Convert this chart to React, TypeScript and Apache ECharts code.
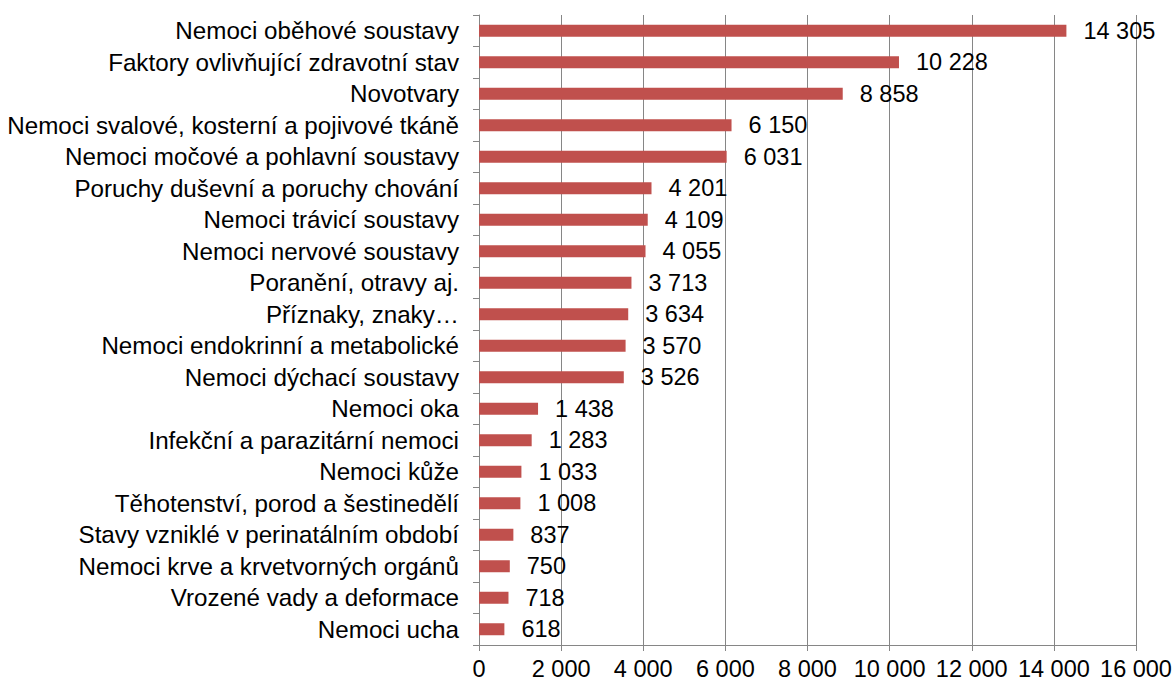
import React, { useEffect, useRef } from "react";
import * as echarts from "echarts";

const categories = [
  "Nemoci oběhové soustavy",
  "Faktory ovlivňující zdravotní stav",
  "Novotvary",
  "Nemoci svalové, kosterní a pojivové tkáně",
  "Nemoci močové a pohlavní soustavy",
  "Poruchy duševní a poruchy chování",
  "Nemoci trávicí soustavy",
  "Nemoci nervové soustavy",
  "Poranění, otravy aj.",
  "Příznaky, znaky…",
  "Nemoci endokrinní a metabolické",
  "Nemoci dýchací soustavy",
  "Nemoci oka",
  "Infekční a parazitární nemoci",
  "Nemoci kůže",
  "Těhotenství, porod a šestinedělí",
  "Stavy vzniklé v perinatálním období",
  "Nemoci krve a krvetvorných orgánů",
  "Vrozené vady a deformace",
  "Nemoci ucha",
];

const values = [
  14305, 10228, 8858, 6150, 6031, 4201, 4109, 4055, 3713, 3634, 3570, 3526,
  1438, 1283, 1033, 1008, 837, 750, 718, 618,
];

const axisMin = 0;
const axisMax = 16000;
const axisStep = 2000;

const fmt = (v: number) =>
  String(Math.round(v)).replace(/\B(?=(\d{3})+(?!\d))/g, " ");

const FONT = "'Liberation Sans', Arial, sans-serif";
const FS = 23.5;
const FS_CAT = 24.2;

export default function App() {
  const ref = useRef<HTMLDivElement>(null);
  useEffect(() => {
    if (!ref.current) return;
    const chart = echarts.init(ref.current, undefined, { renderer: "svg" });
    chart.setOption({
      animation: false,
      backgroundColor: "#ffffff",
      textStyle: { fontFamily: FONT },
      grid: { left: 479, right: 40, top: 15, bottom: 39, containLabel: false },
      xAxis: {
        type: "value",
        min: axisMin,
        max: axisMax,
        interval: axisStep,
        axisLine: { show: true, lineStyle: { color: "#868686", width: 1 } },
        axisTick: { show: true, length: 6, lineStyle: { color: "#868686" } },
        splitLine: { show: true, lineStyle: { color: "#868686", width: 1 } },
        axisLabel: {
          formatter: (v: number) => fmt(v),
          color: "#000",
          fontSize: FS,
          fontFamily: FONT,
          margin: 12,
        },
      },
      yAxis: {
        type: "category",
        data: categories,
        inverse: true,
        axisLine: { show: true, lineStyle: { color: "#868686", width: 1 } },
        axisTick: { show: true, length: 6, lineStyle: { color: "#868686" } },
        splitLine: { show: false },
        axisLabel: {
          interval: 0,
          color: "#000",
          fontSize: FS_CAT,
          fontFamily: FONT,
          margin: 20,
        },
      },
      series: [
        {
          type: "bar",
          data: values,
          barWidth: 12,
          itemStyle: { color: "#C0504D" },
          label: {
            show: true,
            position: "right",
            distance: 17,
            color: "#000",
            fontSize: FS,
            fontFamily: FONT,
            formatter: (p: any) => fmt(p.value),
          },
        },
      ],
    });
    return () => chart.dispose();
  }, []);
  return (
    <div
      ref={ref}
      style={{ position: "fixed", left: 0, top: 0, width: 1176, height: 684 }}
    />
  );
}
